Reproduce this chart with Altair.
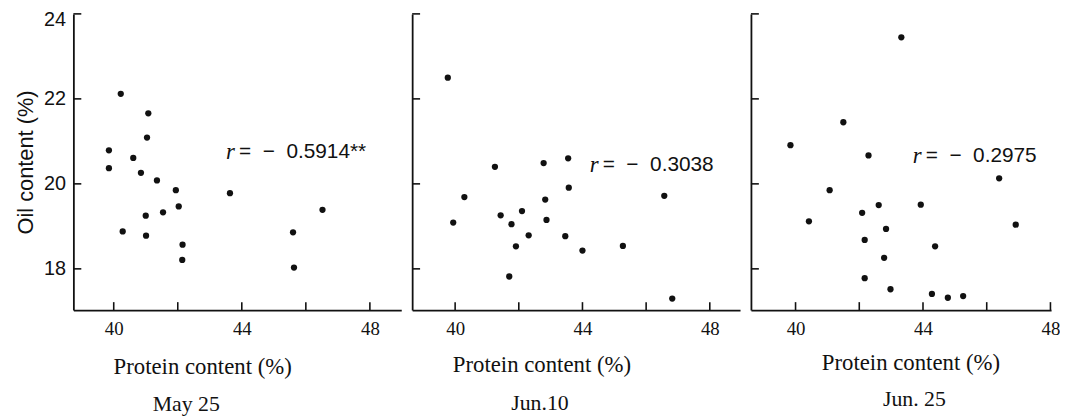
import altair as alt
import pandas as pd

# ---- data ----
may25_protein = [39.85, 39.85, 40.22, 40.28, 40.61, 40.85, 41.08, 41.04, 41.00, 41.01,
                 41.35, 41.54, 41.94, 42.03, 42.15, 42.14, 43.63, 45.60, 45.63, 46.52]
may25_oil = [20.79, 20.37, 22.12, 18.88, 20.61, 20.26, 21.66, 21.09, 19.25, 18.78,
             20.08, 19.33, 19.85, 19.47, 18.57, 18.21, 19.78, 18.86, 18.03, 19.39]

jun10_protein = [39.77, 40.29, 39.94, 41.25, 41.43, 41.77, 42.10, 42.31, 41.91, 41.70,
                 42.78, 42.83, 42.87, 43.55, 43.57, 43.46, 44.00, 45.27, 46.57, 46.82]
jun10_oil = [22.50, 19.69, 19.09, 20.40, 19.26, 19.05, 19.36, 18.79, 18.53, 17.82,
             20.49, 19.63, 19.15, 20.60, 19.91, 18.77, 18.43, 18.54, 19.72, 17.30]

jun25_protein = [39.84, 40.42, 41.07, 41.50, 42.29, 42.09, 42.61, 42.17, 42.84, 42.78,
                 42.17, 42.98, 43.32, 43.93, 44.38, 44.28, 44.78, 45.26, 46.39, 46.91]
jun25_oil = [20.91, 19.12, 19.85, 21.45, 20.67, 19.32, 19.50, 18.68, 18.94, 18.26,
             17.78, 17.52, 23.45, 19.51, 18.53, 17.41, 17.32, 17.36, 20.13, 19.04]

panel_dates = ["May 25", "Jun.10", "Jun. 25"]
NB = "\u00a0\u00a0"
r_values = ["=" + NB + "\u2212" + NB + "0.5914**",
            "=" + NB + "\u2212" + NB + "0.3038",
            "=" + NB + "\u2212" + NB + "0.2975"]
r_protein = [43.51, 44.23, 43.68]
r_oil = [20.75, 20.44, 20.66]

x_tick_values = [40, 42, 44, 46, 48]
x_label_values = [40, 44, 48]
y_tick_values = [18, 20, 22, 24]

x_title = "Protein content (%)"
y_title = "Oil content (%)"

# ---- styling / layout ----
SERIF = "'Liberation Serif', serif"
SANS = "'Liberation Sans', sans-serif"
INK = "#111111"
H = 299
Y_DOMAIN = [17.03, 24]

layout = [
    dict(xdom=[38.74, 48.98], width=331, titleX=130, titleY=64, date_dx=-51.5, date_offset=16, show_y=True),
    dict(xdom=[38.65, 48.95], width=331, titleX=130.5, titleY=62, date_dx=-36.5, date_offset=17, show_y=False),
    dict(xdom=[38.60, 48.02], width=303, titleX=161, titleY=60, date_dx=13.5, date_offset=15, show_y=False),
]
series = [(may25_protein, may25_oil), (jun10_protein, jun10_oil), (jun25_protein, jun25_oil)]


def make_panel(i):
    lay = layout[i]
    prot, oil = series[i]
    df = pd.DataFrame({"protein": prot, "oil": oil})
    xscale = alt.Scale(domain=lay["xdom"], nice=False, zero=False)
    yscale = alt.Scale(domain=Y_DOMAIN, nice=False, zero=False)

    xaxis = alt.Axis(
        values=x_label_values, ticks=False, tickSize=0, grid=False,
        domainColor=INK, domainWidth=1.8, labelFlush=False,
        labelFont=SERIF, labelFontSize=19, labelPadding=10, labelColor=INK,
        title=x_title, titleFont=SERIF, titleFontSize=23, titleFontWeight="normal",
        titleColor=INK, titleX=lay["titleX"], titleY=lay["titleY"],
        titleBaseline="alphabetic", titleAlign="center",
    )
    if lay["show_y"]:
        yaxis = alt.Axis(
            values=y_tick_values, ticks=False, tickSize=0, grid=False,
            domainColor=INK, domainWidth=1.8,
            labelFont=SANS, labelFontSize=20, labelPadding=8, labelColor=INK,
            labelFlush=True, labelFlushOffset=4,
            title=y_title, titleFont=SANS, titleFontSize=22, titleFontWeight="normal",
            titleColor=INK, titlePadding=6,
        )
    else:
        yaxis = alt.Axis(
            values=y_tick_values, ticks=False, tickSize=0, grid=False, labels=False,
            domainColor=INK, domainWidth=1.8, title=None,
        )

    points = alt.Chart(df).mark_circle(size=40, color=INK, opacity=1).encode(
        x=alt.X("protein:Q", scale=xscale, axis=xaxis),
        y=alt.Y("oil:Q", scale=yscale, axis=yaxis),
    )

    yticks = alt.Chart(pd.DataFrame({"oil": y_tick_values})).mark_rule(
        color=INK, strokeWidth=1.6
    ).encode(
        y=alt.Y("oil:Q", scale=yscale),
        x=alt.value(0),
        x2=alt.value(8),
    )
    xticks = alt.Chart(pd.DataFrame({"protein": x_tick_values})).mark_rule(
        color=INK, strokeWidth=1.6
    ).encode(
        x=alt.X("protein:Q", scale=xscale),
        y=alt.value(H),
        y2=alt.value(H - 8),
    )

    rdf = pd.DataFrame({"protein": [r_protein[i]], "oil": [r_oil[i]], "label": [r_values[i]]})
    r_sym = alt.Chart(rdf).mark_text(
        text="r", font=SERIF, fontStyle="italic", fontSize=23,
        align="left", baseline="middle", color=INK,
    ).encode(x=alt.X("protein:Q", scale=xscale), y=alt.Y("oil:Q", scale=yscale))
    r_txt = alt.Chart(rdf).mark_text(
        font=SANS, fontSize=21, align="left", baseline="middle", dx=13, color=INK,
    ).encode(
        x=alt.X("protein:Q", scale=xscale),
        y=alt.Y("oil:Q", scale=yscale),
        text="label:N",
    )

    return alt.layer(points, yticks, xticks, r_sym, r_txt).properties(
        width=lay["width"],
        height=H,
        title=alt.TitleParams(
            text=panel_dates[i], orient="bottom", anchor="middle", frame="group",
            dx=lay["date_dx"], offset=lay["date_offset"],
            font=SERIF, fontSize=22, fontWeight="normal", color=INK,
        ),
    )


chart = alt.hconcat(make_panel(0), make_panel(1), make_panel(2), spacing=10).properties(
    padding={"left": 6, "top": 0, "right": 0, "bottom": 0},
    background="white",
).configure_view(strokeWidth=0)

chart.save("out.html", embed_options={"renderer": "svg", "actions": False})
